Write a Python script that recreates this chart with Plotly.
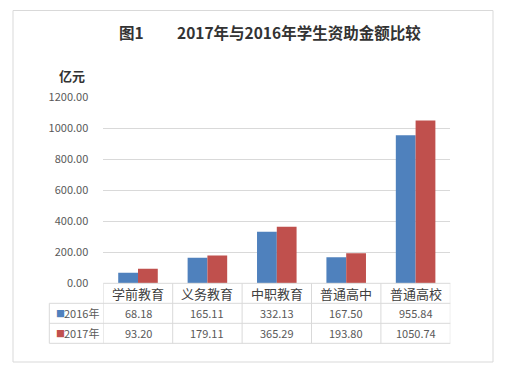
import plotly.graph_objects as go

categories = ["学前教育", "义务教育", "中职教育", "普通高中", "普通高校"]
values_2016 = [68.18, 165.11, 332.13, 167.50, 955.84]
values_2017 = [93.20, 179.11, 365.29, 193.80, 1050.74]
series_names = ["2016年", "2017年"]
y_ticks = [0, 200, 400, 600, 800, 1000, 1200]
title_left = "图1"
title_right = "2017年与2016年学生资助金额比较"
unit_text = "亿元"

W, H = 505, 374
colors = ["#4F81BD", "#C0504D"]
FONT = "Noto Sans CJK SC, Microsoft YaHei, sans-serif"

def px_x(p):
    return p / W

def px_y(p):
    return 1 - p / H

plot_l, plot_r = 103.3, 450.3
plot_t, plot_b = 97.3, 283.3
row_h = 20.0
table_left = 49.3

fig = go.Figure()
for name, vals, c in zip(series_names, [values_2016, values_2017], colors):
    fig.add_trace(go.Bar(x=list(range(len(categories))), y=vals, name=name,
                         marker=dict(color=c, line=dict(width=0)), hoverinfo="skip"))

shapes = []
annotations = []
line_color = "#D9D9D9"
# outer border
shapes.append(dict(type="rect", xref="paper", yref="paper",
                   x0=px_x(13), x1=px_x(493), y0=px_y(362), y1=px_y(10.5),
                   line=dict(color=line_color, width=1)))
# table horizontal lines
y_rows = [plot_b + i * row_h for i in range(4)]
shapes.append(dict(type="line", xref="paper", yref="paper",
                   x0=px_x(plot_l), x1=px_x(plot_r), y0=px_y(y_rows[0]), y1=px_y(y_rows[0]),
                   line=dict(color=line_color, width=1)))
for yr in y_rows[1:]:
    shapes.append(dict(type="line", xref="paper", yref="paper",
                       x0=px_x(table_left), x1=px_x(plot_r), y0=px_y(yr), y1=px_y(yr),
                       line=dict(color=line_color, width=1)))
# vertical lines
shapes.append(dict(type="line", xref="paper", yref="paper",
                   x0=px_x(table_left), x1=px_x(table_left), y0=px_y(y_rows[1]), y1=px_y(y_rows[3]),
                   line=dict(color=line_color, width=1)))
for i in range(len(categories) + 1):
    xb = i - 0.5
    shapes.append(dict(type="line", xref="x", yref="paper",
                       x0=xb, x1=xb, y0=px_y(y_rows[0]), y1=px_y(y_rows[3]),
                       line=dict(color=line_color, width=1)))

# category labels and values
for i, cat in enumerate(categories):
    annotations.append(dict(x=i, y=px_y((y_rows[0] + y_rows[1]) / 2), xref="x", yref="paper",
                            xanchor="center", yanchor="middle",
                            text=cat, showarrow=False, font=dict(size=13, color="#404040", family=FONT)))
    for r, vals in enumerate([values_2016, values_2017]):
        annotations.append(dict(x=i, y=px_y((y_rows[r + 1] + y_rows[r + 2]) / 2), xref="x", yref="paper",
                                xanchor="center", yanchor="middle",
                                text=f"{vals[i]:.2f}", showarrow=False,
                                font=dict(size=11, color="#595959", family=FONT)))
# row headers
for r, (name, c) in enumerate(zip(series_names, colors)):
    yc = px_y((y_rows[r + 1] + y_rows[r + 2]) / 2)
    annotations.append(dict(x=px_x(53.5), y=yc, xref="paper", yref="paper",
                            xanchor="left", yanchor="middle",
                            text="■", showarrow=False,
                            font=dict(size=9, color=c, family=FONT)))
    annotations.append(dict(x=px_x(62), y=yc, xref="paper", yref="paper",
                            xanchor="left", yanchor="middle",
                            text=name, showarrow=False,
                            font=dict(size=11, color="#595959", family=FONT)))
# title and unit
annotations.append(dict(x=px_x(117), y=px_y(32), xref="paper", yref="paper", xanchor="left", yanchor="middle",
                        text=f"<b>{title_left}</b>", showarrow=False,
                        font=dict(size=15.5, color="#333333", family=FONT)))
annotations.append(dict(x=px_x(175), y=px_y(32), xref="paper", yref="paper", xanchor="left", yanchor="middle",
                        text=f"<b>{title_right}</b>", showarrow=False,
                        font=dict(size=15.5, color="#333333", family=FONT)))
annotations.append(dict(x=px_x(72), y=px_y(75), xref="paper", yref="paper", xanchor="center", yanchor="middle",
                        text=f"<b>{unit_text}</b>", showarrow=False,
                        font=dict(size=13, color="#333333", family=FONT)))

fig.update_layout(
    width=W, height=H, margin=dict(l=0, r=0, t=0, b=0, autoexpand=False),
    paper_bgcolor="white", plot_bgcolor="white",
    barmode="group", bargap=0.43, bargroupgap=0,
    showlegend=False,
    xaxis=dict(domain=[px_x(plot_l), px_x(plot_r)], range=[-0.5, len(categories) - 0.5], automargin=False,
               showticklabels=False, showgrid=False, zeroline=False, showline=False, fixedrange=True),
    yaxis=dict(domain=[px_y(plot_b), px_y(plot_t)], range=[0, 1200], tickvals=y_ticks, automargin=False,
               ticktext=[f"{v:.2f}" for v in y_ticks], showgrid=True, gridcolor=line_color, gridwidth=1,
               zeroline=False, showline=False, ticklabelstandoff=14,
               tickfont=dict(size=11, color="#595959", family=FONT), fixedrange=True),
    shapes=shapes, annotations=annotations,
)
fig.write_html("out.html", config={"displayModeBar": False, "staticPlot": True},
               post_script="document.body.style.margin='0';document.body.style.overflow='hidden';")
